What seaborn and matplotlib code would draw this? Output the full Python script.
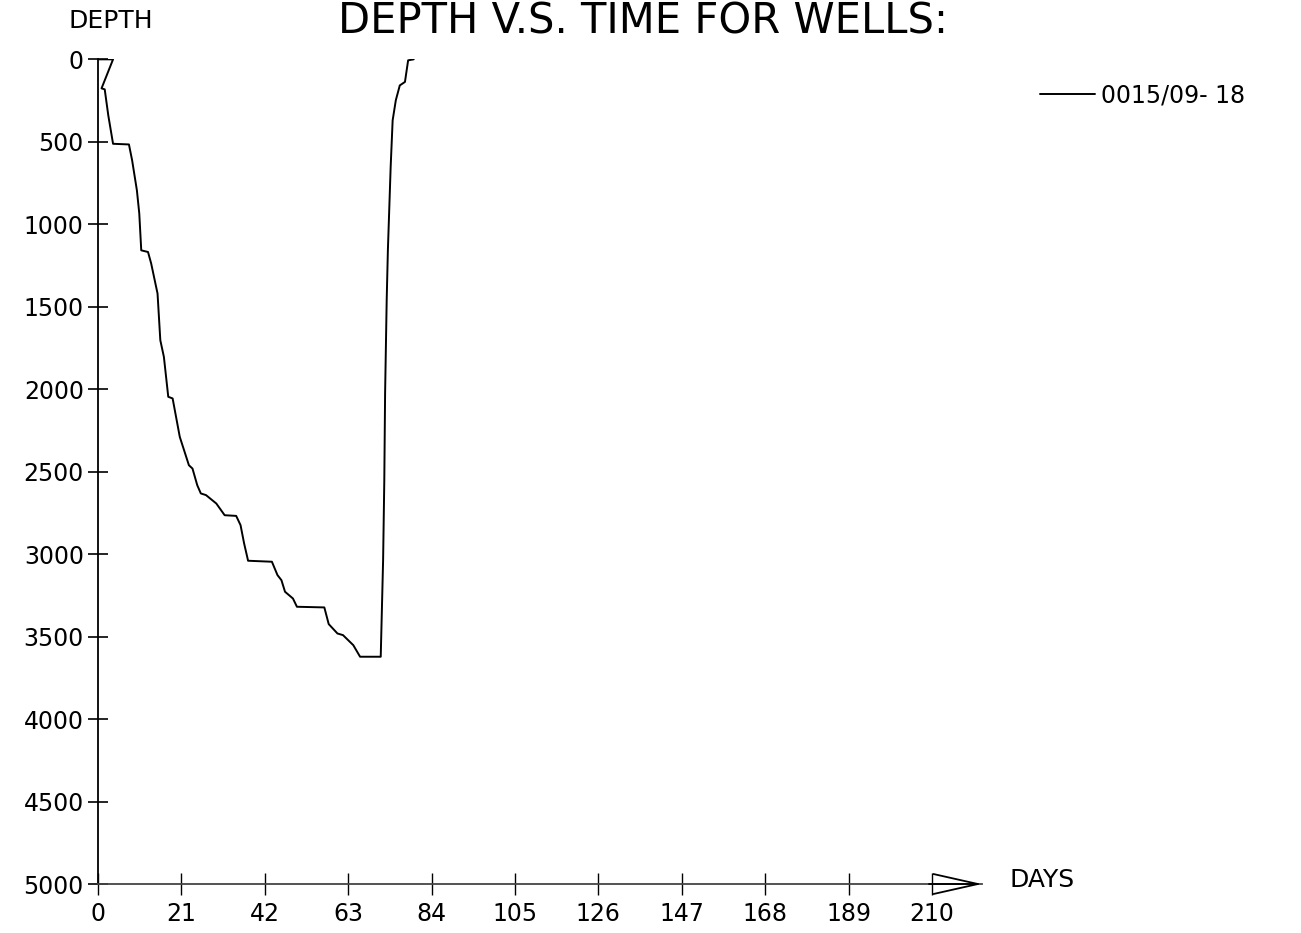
import numpy as np
import pandas as pd
import matplotlib
matplotlib.use("Agg")
import matplotlib.pyplot as plt
import seaborn as sns

# well 0015/09- 18 : depth against days
days = [0, 3.8, 0.9, 1.7, 2.6, 3.8, 7.8, 8.6, 9.8, 10.4, 10.9,
        12.6, 13.4, 15.0, 15.7, 16.6, 17.7, 18.8, 20.6, 22.9, 23.8,
        25.0, 25.9, 27.2, 29.8, 31.9, 34.8, 35.9, 36.8, 37.8, 43.8,
        45.2, 46.2, 47.1, 49.1, 50.1, 57.0, 58.1, 60.3, 61.7, 64.3,
        66.0, 71.2, 71.8, 72.1, 72.3, 72.7, 73.0, 73.7, 74.2, 75.0,
        76.0, 77.3, 78.1, 79.5]
depth = [0, 0, 176, 182, 340, 512, 516, 612, 794, 934, 1158,
         1168, 1238, 1420, 1703, 1804, 2046, 2056, 2289, 2461, 2481,
         2582, 2632, 2642, 2693, 2764, 2768, 2824, 2935, 3040, 3046,
         3127, 3158, 3228, 3269, 3319, 3323, 3424, 3481, 3491, 3552,
         3622, 3622, 3036, 2552, 2026, 1461, 1158, 653, 370, 248,
         158, 137, 6, 0]
well_name = "0015/09- 18"

x_ticks = list(range(0, 211, 21))
y_ticks = list(range(0, 5001, 500))

df = pd.DataFrame({"days": days, "depth": depth})

sns.set_style("white")
plt.rcParams["font.family"] = ["DejaVu Sans"]
plt.rcParams["text.color"] = "black"

fig = plt.figure(figsize=(13.01, 9.33), dpi=100)
ax = fig.add_axes([0.0753, 0.0525, 0.6795, 0.8839])

sns.lineplot(data=df, x="days", y="depth", sort=False, estimator=None,
             color="black", lw=1.4, ax=ax, label=well_name)
ax.get_legend().remove()

# axes: depth grows downward, x axis runs on to the arrow
ax.set_xlim(0, 222.6)
ax.set_ylim(5000, 0)
ax.set_xticks(x_ticks)
ax.set_xticklabels([str(t) for t in x_ticks])
ax.set_yticks(y_ticks)
ax.set_yticklabels([str(t) for t in y_ticks])
ax.set_xlabel("")
ax.set_ylabel("")

for s in ["top", "right"]:
    ax.spines[s].set_visible(False)
ax.spines["left"].set_color("black")
ax.spines["left"].set_linewidth(1.3)
ax.spines["bottom"].set_color("#444444")
ax.spines["bottom"].set_linewidth(1.3)

ax.tick_params(axis="y", direction="inout", length=14.4, width=1.2,
               pad=3, labelsize=17, colors="black", left=True)
ax.tick_params(axis="x", direction="inout", length=16, width=1.0,
               pad=5, labelsize=17, colors="black", bottom=True)

# open arrow head at the end of the x axis
ax.annotate("", xy=(1.0, 0.0), xytext=(0.94, 0.0),
            xycoords="axes fraction", textcoords="axes fraction",
            arrowprops=dict(arrowstyle="->,head_length=3.2,head_width=0.72",
                            color="black", lw=1.3, shrinkA=0, shrinkB=0),
            annotation_clip=False)

fig.text(0.0523, 0.970, "DEPTH", fontsize=18, va="baseline", ha="left",
         color="black")
fig.text(0.4939, 0.9646, "DEPTH V.S. TIME FOR WELLS:", fontsize=30,
         va="baseline", ha="center", color="black")
fig.text(0.7763, 0.0568, "DAYS", fontsize=18, va="center", ha="left",
         color="black")

handles, labels = ax.get_lines()[:1], [well_name]
leg = fig.legend(handles, labels, loc="center left",
                 bbox_to_anchor=(0.7994, 0.8976), frameon=False,
                 fontsize=17, handlelength=2.33, handletextpad=0.25,
                 borderpad=0, borderaxespad=0)
for t in leg.get_texts():
    t.set_color("black")

fig.savefig("out.png", dpi=100)
